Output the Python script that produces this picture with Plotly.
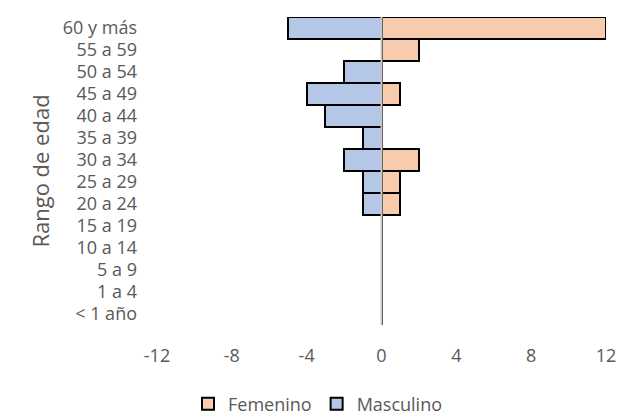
import plotly.graph_objects as go

categorias = ["< 1 año", "1 a 4", "5 a 9", "10 a 14", "15 a 19", "20 a 24", "25 a 29",
              "30 a 34", "35 a 39", "40 a 44", "45 a 49", "50 a 54", "55 a 59", "60 y más"]
femenino = [0, 0, 0, 0, 0, 1, 1, 2, 0, 0, 1, 0, 2, 12]
masculino = [0, 0, 0, 0, 0, -1, -1, -2, -1, -3, -4, -2, 0, -5]
tick_vals = [-12, -8, -4, 0, 4, 8, 12]
tick_text = ["-12", "-8", "-4", "0", "4", "8", "12"]

font_family = "Open Sans, Liberation Sans, sans-serif"
grey = "#595959"

fig = go.Figure()
fig.add_trace(go.Bar(y=categorias, x=femenino, name="Femenino", orientation="h",
                     marker=dict(color="#F8CBAD", line=dict(color="black", width=2))))
fig.add_trace(go.Bar(y=categorias, x=masculino, name="Masculino", orientation="h",
                     marker=dict(color="#B4C7E7", line=dict(color="black", width=2))))

fig.add_shape(type="line", x0=0, x1=0, y0=0, y1=1, xref="x", yref="paper",
              line=dict(color="#C8C8C8", width=2), layer="above")

left = 137
right = 30
plot_w = 636 - left - right

fig.update_layout(
    width=636, height=419,
    margin=dict(l=left, r=right, t=17, b=94),
    plot_bgcolor="white", paper_bgcolor="white",
    barmode="overlay", bargap=0,
    font=dict(family=font_family, color=grey, size=18),
    showlegend=True,
    legend=dict(orientation="h", x=0.5, xanchor="center", xref="container",
                y=0.08, yanchor="top", yref="container",
                font=dict(size=18, color=grey), traceorder="normal"),
    xaxis=dict(range=[-12, 12], tickvals=tick_vals, ticktext=tick_text,
               domain=[20 / plot_w, 1],
               showgrid=False, zeroline=False, showline=False, ticks="",
               ticklabelstandoff=18, automargin=False,
               tickfont=dict(size=18, color=grey)),
    yaxis=dict(categoryorder="array", categoryarray=categorias,
               tickmode="array", tickvals=categorias, ticktext=categorias,
               anchor="free", position=0,
               showgrid=False, zeroline=False, showline=False, ticks="",
               automargin=False,
               tickfont=dict(size=18, color=grey),
               title=dict(text="Rango de edad", font=dict(size=22, color=grey), standoff=6)),
)

fig.write_html("out.html", config={"displayModeBar": False},
               post_script="document.body.style.margin='0';")
